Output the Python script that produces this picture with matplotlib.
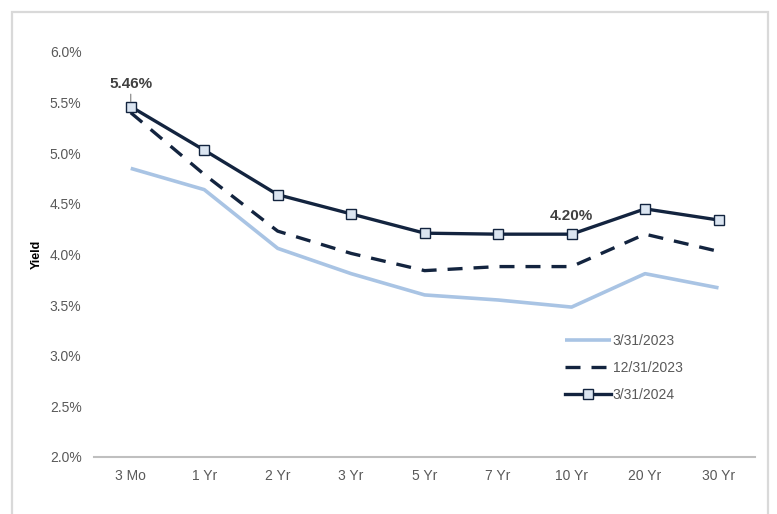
import matplotlib
matplotlib.use("Agg")
import matplotlib.pyplot as plt
from matplotlib.patches import Rectangle
from matplotlib.ticker import FuncFormatter

tenors = ["3 Mo", "1 Yr", "2 Yr", "3 Yr", "5 Yr", "7 Yr", "10 Yr", "20 Yr", "30 Yr"]
y_2023_03 = [4.85, 4.64, 4.06, 3.81, 3.60, 3.55, 3.48, 3.81, 3.67]
y_2023_12 = [5.40, 4.79, 4.23, 4.01, 3.84, 3.88, 3.88, 4.20, 4.03]
y_2024_03 = [5.46, 5.03, 4.59, 4.40, 4.21, 4.20, 4.20, 4.45, 4.34]

navy = "#13243f"
light_blue = "#a9c4e4"
grey_text = "#595959"

plt.rcParams["font.family"] = ["Liberation Sans", "DejaVu Sans"]

fig = plt.figure(figsize=(7.77, 5.14), dpi=100)
ax = fig.add_axes([0.121, 0.111, 0.851, 0.788])

x = list(range(len(tenors)))
ax.plot(x, y_2023_03, color=light_blue, lw=2.6, label="3/31/2023", solid_capstyle="butt")
ax.plot(x, y_2023_12, color=navy, lw=2.4, dashes=(4.5, 3.3), label="12/31/2023")
ax.plot(x, y_2024_03, color=navy, lw=2.4, marker="s", markersize=6.5,
        markerfacecolor="#dbe5f1", markeredgecolor=navy, markeredgewidth=1.0,
        label="3/31/2024")

ax.set_xlim(-0.5, len(tenors) - 0.5)
ax.set_ylim(2.0, 6.0)
ax.set_yticks([2.0, 2.5, 3.0, 3.5, 4.0, 4.5, 5.0, 5.5, 6.0])
ax.yaxis.set_major_formatter(FuncFormatter(lambda v, _: f"{v:.1f}%"))
ax.set_xticks(x)
ax.set_xticklabels(tenors)
ax.tick_params(axis="both", length=0, labelsize=10, colors=grey_text)
ax.tick_params(axis="x", pad=9)
ax.tick_params(axis="y", pad=9)

for side in ("top", "right", "left"):
    ax.spines[side].set_visible(False)
ax.spines["bottom"].set_color("#bfbfbf")
ax.spines["bottom"].set_linewidth(1.5)

ax.set_ylabel("Yield", fontsize=9, fontweight="bold", color="black")
ax.yaxis.set_label_coords(-0.078, 0.5)

# data labels
ax.annotate(f"{y_2024_03[0]:.2f}%", xy=(0, y_2024_03[0]), xytext=(0, y_2024_03[0] + 0.15),
            ha="center", va="bottom", fontsize=11, fontweight="bold", color="#404040",
            arrowprops=dict(arrowstyle="-", color="#7f7f7f", lw=0.8, shrinkA=0, shrinkB=3.5))
ax.annotate(f"{y_2024_03[6]:.2f}%", xy=(6, y_2024_03[6]), xytext=(0, 8),
            textcoords="offset points", ha="center", va="bottom",
            fontsize=11, fontweight="bold", color="#404040")

leg = ax.legend(loc="upper left", bbox_to_anchor=(0.694, 0.335), frameon=False,
                fontsize=10, handlelength=3.3, handletextpad=0.1, labelspacing=0.95)
for t in leg.get_texts():
    t.set_color(grey_text)

fig.patches.append(Rectangle((12 / 777, -0.05), 756 / 777, 1.05 - 12 / 514,
                             transform=fig.transFigure, fill=False,
                             edgecolor="#d9d9d9", lw=1.6))

fig.savefig("out.png", dpi=100)
